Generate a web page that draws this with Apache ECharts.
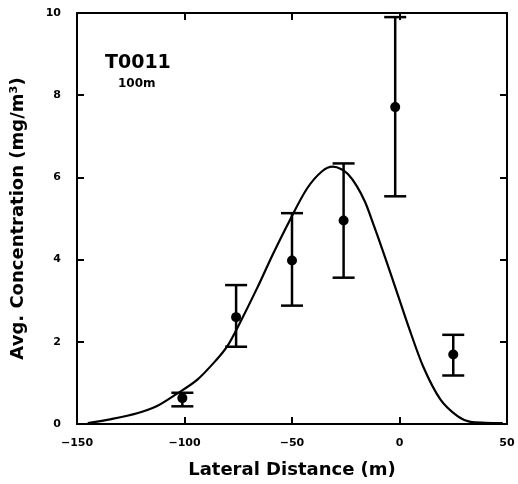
<!DOCTYPE html>
<html>
<head>
<meta charset="utf-8">
<script src="https://cdn.jsdelivr.net/npm/echarts/dist/echarts.min.js"></script>
<style>
html,body{margin:0;padding:0;background:#fff;}
#chart{width:518px;height:484px;}
</style>
</head>
<body>
<div id="chart"></div>
<script>
// Observed data (lateral distance, mean, error bar low/high)
const obsX = [-101, -76, -50, -26, -2, 25];
const obsMean = [0.63, 2.6, 3.98, 4.95, 7.71, 1.69];
const obsLow = [0.43, 1.88, 2.88, 3.56, 5.54, 1.18];
const obsHigh = [0.76, 3.38, 5.13, 6.34, 9.9, 2.17];

// Model curve
const curveX = [-145, -134, -122, -113, -104, -94, -85, -80, -75, -66, -59, -51, -43, -36, -31, -27, -24, -20, -16, -12, -8, -4, 0, 4, 11, 19, 27, 33, 40, 48];
const curveY = [0.02, 0.12, 0.26, 0.43, 0.72, 1.08, 1.57, 1.9, 2.38, 3.33, 4.12, 4.96, 5.73, 6.15, 6.26, 6.2, 6.08, 5.8, 5.4, 4.84, 4.25, 3.64, 3.02, 2.4, 1.4, 0.6, 0.19, 0.05, 0.03, 0.02];

const xTicks = [-150, -100, -50, 0, 50];
const yTicks = [0, 2, 4, 6, 8, 10];

const chart = echarts.init(document.getElementById('chart'));
const tickFont = {fontFamily: 'DejaVu Sans', fontWeight: 'bold', fontSize: 11, color: '#000'};
const axisLine = {show: true, onZero: false, lineStyle: {color: '#000', width: 2}};
const axisTick = {show: true, inside: true, length: 7, lineStyle: {color: '#000', width: 2}};
const nameFont = {fontFamily: 'DejaVu Sans', fontWeight: 'bold', fontSize: 18, color: '#000'};

const errData = obsX.map((x, i) => [x, obsMean[i], obsLow[i], obsHigh[i]]);
const ptData = obsX.map((x, i) => [x, obsMean[i]]);
const curveData = curveX.map((x, i) => [x, curveY[i]]);

chart.setOption({
  animation: false,
  backgroundColor: '#fff',
  grid: {left: 77, right: 11, top: 13, bottom: 56},
  xAxis: [{
    type: 'value', min: -150, max: 50, interval: 50, position: 'bottom',
    axisLine: axisLine, axisTick: axisTick,
    splitLine: {show: false},
    axisLabel: Object.assign({margin: 14, formatter: v => xTicks.includes(v) ? (v < 0 ? '\u2212' + Math.abs(v) : String(v)) : ''}, tickFont),
    name: 'Lateral Distance (m)', nameLocation: 'middle', nameGap: 37,
    nameTextStyle: nameFont
  }, {
    type: 'value', min: -150, max: 50, interval: 50, position: 'top',
    axisLine: axisLine, axisTick: axisTick,
    splitLine: {show: false}, axisLabel: {show: false}
  }],
  yAxis: [{
    type: 'value', min: 0, max: 10, interval: 2, position: 'left',
    axisLine: axisLine, axisTick: axisTick,
    splitLine: {show: false},
    axisLabel: Object.assign({margin: 16, formatter: v => yTicks.includes(v) ? String(v) : ''}, tickFont),
    name: 'Avg. Concentration (mg/m\u00B3)', nameLocation: 'middle', nameGap: 50,
    nameTextStyle: nameFont
  }, {
    type: 'value', min: 0, max: 10, interval: 2, position: 'right',
    axisLine: axisLine, axisTick: axisTick,
    splitLine: {show: false}, axisLabel: {show: false}
  }],
  graphic: [
    {type: 'text', left: 105, top: 54, style: {text: 'T0011', font: 'bold 19px "DejaVu Sans"', fill: '#000'}},
    {type: 'text', left: 118, top: 78, style: {text: '100m', font: 'bold 12px "DejaVu Sans"', fill: '#000'}}
  ],
  series: [{
    type: 'line', data: curveData, smooth: 0.3, showSymbol: false,
    lineStyle: {color: '#000', width: 2.2}, z: 2
  }, {
    type: 'custom', data: errData, z: 3,
    renderItem: function (params, api) {
      const x = api.value(0);
      const pHi = api.coord([x, api.value(3)]);
      const pLo = api.coord([x, api.value(2)]);
      const hw = 11;
      const st = {stroke: '#000', lineWidth: 2.5};
      return {type: 'group', children: [
        {type: 'line', shape: {x1: pHi[0], y1: pHi[1], x2: pLo[0], y2: pLo[1]}, style: st},
        {type: 'line', shape: {x1: pHi[0] - hw, y1: pHi[1], x2: pHi[0] + hw, y2: pHi[1]}, style: st},
        {type: 'line', shape: {x1: pLo[0] - hw, y1: pLo[1], x2: pLo[0] + hw, y2: pLo[1]}, style: st}
      ]};
    }
  }, {
    type: 'scatter', data: ptData, symbol: 'circle', symbolSize: 10,
    itemStyle: {color: '#000', opacity: 1}, z: 4
  }]
});
</script>
</body>
</html>
